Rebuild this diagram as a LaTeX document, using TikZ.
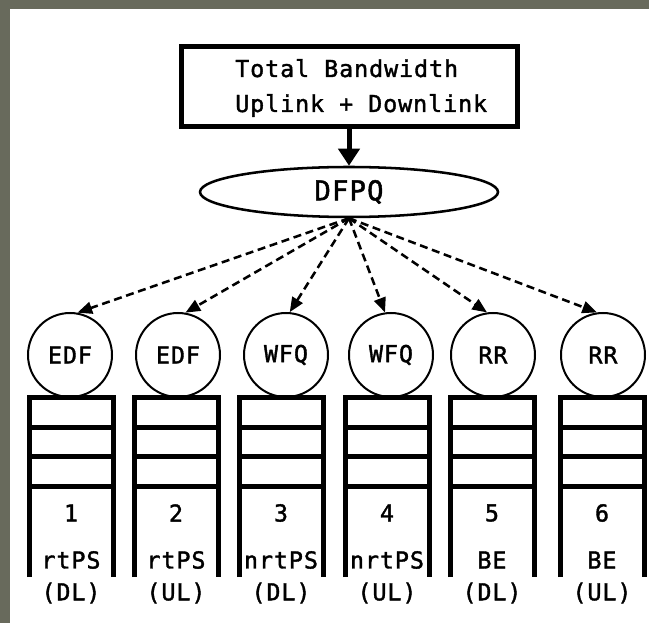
\documentclass[tikz,border=0pt]{standalone}
\usepackage{fontspec}
\newfontfamily\monofnt[LetterSpace=4,FakeBold=1.6]{DejaVu Sans Mono}
\usetikzlibrary{shapes.geometric,arrows.meta}
\definecolor{frame}{RGB}{104,106,92}
\tikzset{
  titlebox/.style={draw,line width=3.75pt,minimum width=252pt,minimum height=60pt,inner sep=0pt},
  sched/.style={draw,ellipse,line width=1.9pt,minimum width=223.5pt,minimum height=37.5pt,inner sep=0pt,font=\monofnt\fontsize{20.5}{24}\selectfont},
  algo/.style={draw,circle,line width=1.5pt,minimum size=63pt,inner sep=0pt,font=\monofnt\fontsize{17.5}{20}\selectfont},
  lbl/.style={inner sep=0pt,font=\monofnt\fontsize{17.5}{20}\selectfont},
  qline/.style={line width=3.75pt,line join=miter},
  fan/.style={line width=1.9pt,dash pattern=on 6pt off 3.5pt,-{Triangle[length=11pt,width=9pt]}},
  feed/.style={line width=3.75pt,-{Triangle[length=12.75pt,width=15.75pt]}}
}
\begin{document}
\begin{tikzpicture}[x=0.75pt,y=-0.75pt]
\fill[white] (0,0) rectangle (649,623);
\useasboundingbox (0,0) rectangle (649,623);
\fill[frame] (0,0) rectangle (10,623);
\fill[frame] (0,0) rectangle (649,9);

\node[titlebox] (tot) at (349,87) {};
\node[lbl,anchor=base west,align=left] (t1) at (235,77) {Total Bandwidth};
\node[lbl,anchor=base west,align=left] (t2) at (235,112) {Uplink + Downlink};

\node[sched] (dfpq) at (349,192) {DFPQ};
\draw[feed] (tot.south) -- (dfpq.north);

\foreach \i/\cx/\qx/\alg/\typ/\dir/\ang in {1/70/71/EDF/rtPS/DL/80, 2/178/176/EDF/rtPS/UL/80, 3/286/281/WFQ/nrtPS/DL/85, 4/391/387/WFQ/nrtPS/UL/98, 5/493/492/RR/BE/DL/98, 6/603/602/RR/BE/UL/98}{
  \node[algo] (c\i) at (\cx,355) {\alg};
  \draw[fan] (dfpq.south) -- (c\i.\ang);
  \coordinate (q\i) at (\qx,397);
  \draw[qline] ([xshift=-31.5pt,yshift=-135pt]q\i) -- ([xshift=-31.5pt]q\i) -- ([xshift=31.5pt]q\i) -- ([xshift=31.5pt,yshift=-135pt]q\i);
  \draw[qline] ([xshift=-31.5pt,yshift=-22.5pt]q\i) -- ([xshift=31.5pt,yshift=-22.5pt]q\i);
  \draw[qline] ([xshift=-31.5pt,yshift=-44.25pt]q\i) -- ([xshift=31.5pt,yshift=-44.25pt]q\i);
  \draw[qline] ([xshift=-31.5pt,yshift=-66.75pt]q\i) -- ([xshift=31.5pt,yshift=-66.75pt]q\i);
  \node[lbl] (n\i) at (\qx,513) {\i};
  \node[lbl] (k\i) at (\qx,560) {\typ};
  \node[lbl] (d\i) at (\qx,593) {(\dir)};
}
\end{tikzpicture}
\end{document}
